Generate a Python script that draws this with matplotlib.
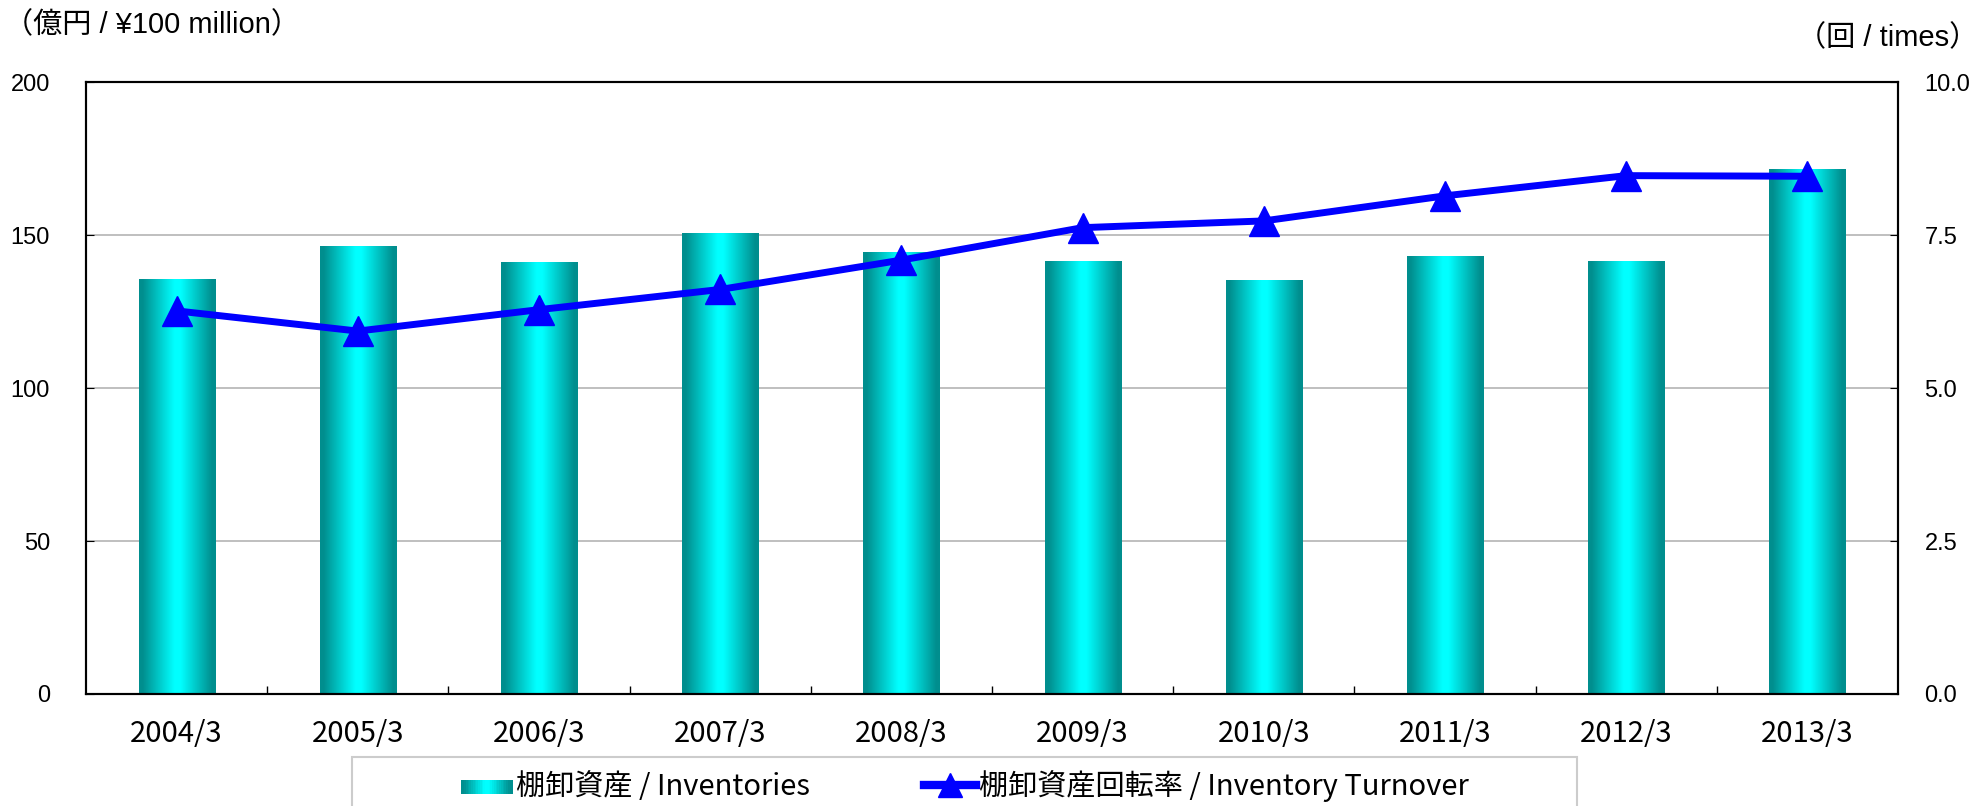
import numpy as np
import matplotlib
matplotlib.use("Agg")
import matplotlib.pyplot as plt
from matplotlib.patches import Rectangle
from matplotlib.legend_handler import HandlerBase
from matplotlib.lines import Line2D

plt.rcParams['font.family'] = ['Liberation Sans', 'Noto Sans CJK JP', 'DejaVu Sans']

# data
years = ["2004/3", "2005/3", "2006/3", "2007/3", "2008/3",
         "2009/3", "2010/3", "2011/3", "2012/3", "2013/3"]
inventories = [135.5, 146.3, 140.9, 150.4, 144.2, 141.3, 135.1, 143.0, 141.3, 171.5]
turnover = [6.26, 5.93, 6.28, 6.61, 7.09, 7.62, 7.73, 8.14, 8.47, 8.46]

dark = np.array([0.0, 0.56, 0.56])
light = np.array([0.0, 1.0, 1.0])

def grad_colors(n):
    t = np.linspace(0, 1, n)
    k = np.clip(1 - np.abs(t - 0.5) / 0.45, 0, 1)
    k = np.clip(k * 1.1, 0, 1)
    return dark[None, :] * (1 - k[:, None]) + light[None, :] * k[:, None]

cjk = ['Noto Sans CJK JP', 'DejaVu Sans']

fig = plt.figure(figsize=(19.81, 8.06), dpi=100)
ax = fig.add_axes([86 / 1981, 1 - 694 / 806, (1898 - 86) / 1981, (694 - 82) / 806])
ax2 = ax.twinx()

x = np.arange(len(years))
bars = ax.bar(x, inventories, width=0.42, facecolor="none", edgecolor="none", zorder=2)
grad = grad_colors(200)[None, :, :]
for b in bars:
    ax.imshow(grad, extent=[b.get_x(), b.get_x() + b.get_width(), 0, b.get_height()],
              aspect="auto", interpolation="bilinear", zorder=2)

ax.set_xlim(-0.5, len(years) - 0.5)
ax.set_ylim(0, 200)
ax.set_yticks([0, 50, 100, 150, 200])
ax.yaxis.grid(True, color="#b4b4b4", lw=1.2)
ax.set_axisbelow(True)
ax.set_xticks(x)
ax.set_xticklabels(years, family=cjk, fontsize=21)
ax.set_xticks(x[:-1] + 0.5, minor=True)
ax.tick_params(axis="x", which="major", length=0, pad=18)
ax.tick_params(axis="x", which="minor", direction="in", length=6, width=1)
ax.tick_params(axis="y", direction="in", length=6, labelsize=17, pad=26)

ax2.plot(x, turnover, color="#0000ff", lw=5, marker="^", markersize=21,
         markeredgecolor="#0000ff", zorder=5)
ax2.set_ylim(0, 10)
ax2.set_yticks([0, 2.5, 5, 7.5, 10])
ax2.set_yticklabels(["0.0", "2.5", "5.0", "7.5", "10.0"])
ax2.tick_params(axis="y", direction="in", length=6, labelsize=17, pad=19)

for a in (ax, ax2):
    for s in a.spines.values():
        s.set_linewidth(1.5)
        s.set_color("black")

fig.text(4 / 1981, 1 - 25 / 806, "（億円 / ¥100 million）", fontsize=21, va="center", ha="left")
fig.text(1978 / 1981, 1 - 38 / 806, "（回 / times）", fontsize=21, va="center", ha="right")

# legend frame
fig.patches.append(Rectangle((352 / 1981, -0.02), (1577 - 352) / 1981, 0.02 + (806 - 757) / 806,
                             transform=fig.transFigure, facecolor="white",
                             edgecolor="#cccccc", lw=1.5, zorder=0))


class GradHandler(HandlerBase):
    def create_artists(self, legend, orig_handle, xdescent, ydescent, width, height, fontsize, trans):
        n = 30
        cols = grad_colors(n)
        arts = []
        for i in range(n):
            r = Rectangle((-xdescent + width * i / n, -ydescent + height * 0.05), width / n * 1.05,
                          height * 0.7, facecolor=cols[i], edgecolor="none", transform=trans)
            arts.append(r)
        return arts


h1 = Rectangle((0, 0), 1, 1)
h2 = Line2D([], [], color="#0000ff", lw=6, marker="^", markersize=17)
fig.legend([h1, h2], ["棚卸資産 / Inventories", "棚卸資産回転率 / Inventory Turnover"],
           handler_map={h1: GradHandler()}, loc="center", bbox_to_anchor=(0.487, 1 - 786 / 806),
           ncol=2, frameon=False, handlelength=1.8, handletextpad=0.1,
           columnspacing=3.9, prop={'family': cjk, 'size': 21})

fig.savefig("out.png", dpi=100)
